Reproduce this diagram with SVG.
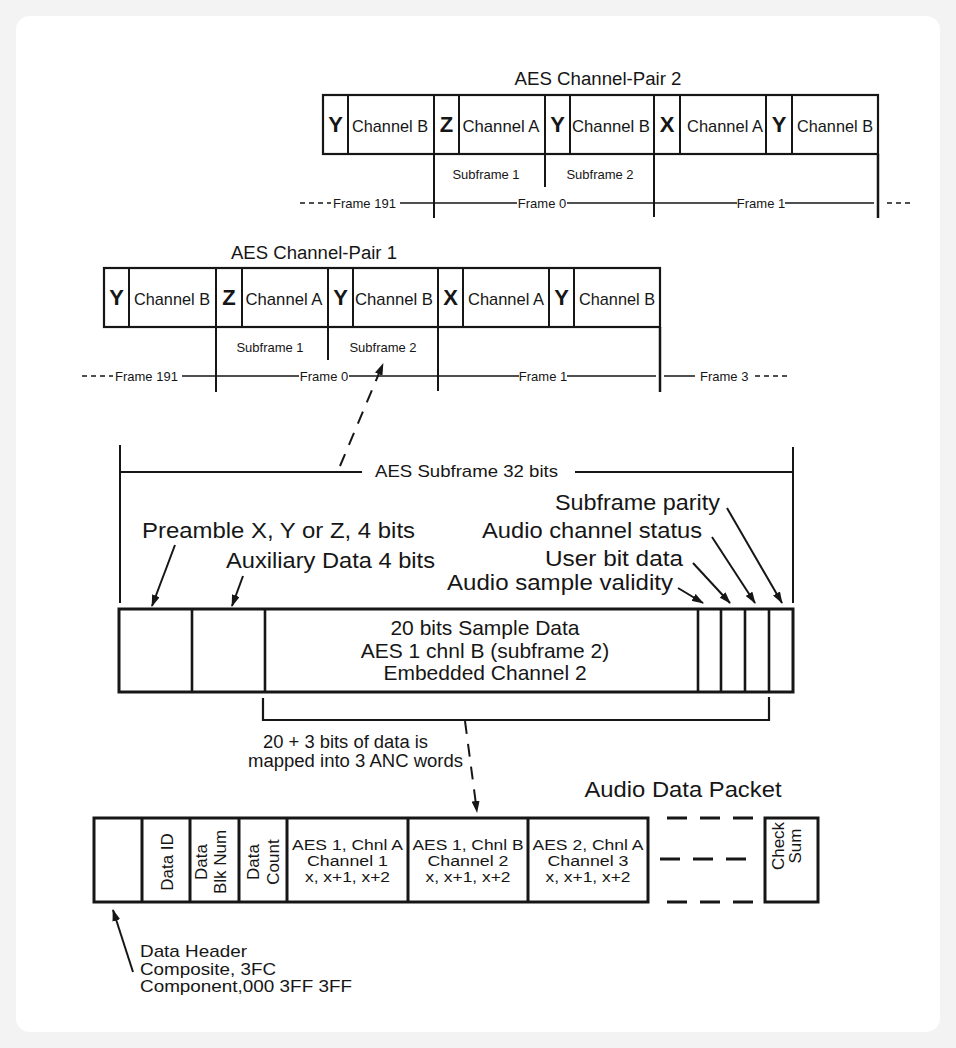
<svg xmlns="http://www.w3.org/2000/svg" width="956" height="1048" viewBox="0 0 956 1048">
<style>
text{font-family:"Liberation Sans",Arial,Helvetica,sans-serif;fill:#161616}
.ln{stroke:#161616;stroke-width:1.6;fill:none}
.cell{stroke:#161616;stroke-width:2;fill:none}
.bx{stroke:#161616;stroke-width:2.2;fill:none}
.thk{stroke:#161616;stroke-width:3;fill:none}
.big{font-size:22px;font-weight:bold}
.ch{font-size:17px}
.sm{font-size:13px}
.dsh{stroke:#161616;stroke-width:1.4;stroke-dasharray:5 4;fill:none}
.lbl{font-size:22px}
.pk{font-size:17px}
.pt{font-size:14px}
.arr{stroke:#161616;stroke-width:2;fill:none;marker-end:url(#ah)}
.darr{stroke:#161616;stroke-width:2;fill:none;stroke-dasharray:13 10;marker-end:url(#ah)}
.pdash{stroke:#161616;stroke-width:3;fill:none;stroke-dasharray:20 13}
</style>
<defs>
<marker id="ah" viewBox="0 0 12 8" refX="11" refY="4" markerWidth="12" markerHeight="8" markerUnits="userSpaceOnUse" orient="auto"><path d="M0,0L12,4L0,8z" fill="#161616"/></marker>
</defs>
<rect width="956" height="1048" fill="#f3f3f3"/>
<rect x="16" y="16" width="924" height="1016" rx="14" fill="#ffffff"/>

<g id="pair2">
<text x="598" y="85" font-size="18" text-anchor="middle" textLength="167" lengthAdjust="spacingAndGlyphs">AES Channel-Pair 2</text>
<rect class="bx" x="323" y="95" width="555" height="59"/>
<path class="cell" d="M348,95V154M434,95V154M459,95V154M545,95V154M570,95V154M654,95V154M680,95V154M766,95V154M792,95V154"/>
<text class="big" x="335.5" y="132" text-anchor="middle">Y</text>
<text class="big" x="446.5" y="132" text-anchor="middle">Z</text>
<text class="big" x="557.5" y="132" text-anchor="middle">Y</text>
<text class="big" x="667" y="132" text-anchor="middle">X</text>
<text class="big" x="779" y="132" text-anchor="middle">Y</text>
<text class="ch" x="390" y="132" text-anchor="middle" textLength="76" lengthAdjust="spacingAndGlyphs">Channel B</text>
<text class="ch" x="501" y="132" text-anchor="middle" textLength="77" lengthAdjust="spacingAndGlyphs">Channel A</text>
<text class="ch" x="611" y="132" text-anchor="middle" textLength="78" lengthAdjust="spacingAndGlyphs">Channel B</text>
<text class="ch" x="725" y="132" text-anchor="middle" textLength="76" lengthAdjust="spacingAndGlyphs">Channel A</text>
<text class="ch" x="835" y="132" text-anchor="middle" textLength="76" lengthAdjust="spacingAndGlyphs">Channel B</text>
<path class="cell" d="M434,154V218M545,154V187M654,154V217"/>
<path class="thk" style="stroke-width:2.5" d="M878,154V218"/>
<text class="sm" x="486" y="179" text-anchor="middle">Subframe 1</text>
<text class="sm" x="600" y="179" text-anchor="middle">Subframe 2</text>
<path class="dsh" d="M300,203H331M887,203H914"/>
<path class="ln" d="M400,203H517M567,203H737M785,203H874"/>
<text class="sm" x="333" y="208">Frame 191</text>
<text class="sm" x="542" y="208" text-anchor="middle">Frame 0</text>
<text class="sm" x="761" y="208" text-anchor="middle">Frame 1</text>
</g>

<g id="pair1">
<text x="314" y="259" font-size="18" text-anchor="middle" textLength="166" lengthAdjust="spacingAndGlyphs">AES Channel-Pair 1</text>
<rect class="bx" x="104" y="268" width="556" height="59"/>
<path class="cell" d="M129,268V327M216,268V327M242,268V327M328,268V327M353,268V327M438,268V327M463,268V327M549,268V327M574,268V327"/>
<text class="big" x="116.5" y="305" text-anchor="middle">Y</text>
<text class="big" x="229" y="305" text-anchor="middle">Z</text>
<text class="big" x="340.5" y="305" text-anchor="middle">Y</text>
<text class="big" x="450.5" y="305" text-anchor="middle">X</text>
<text class="big" x="561.5" y="305" text-anchor="middle">Y</text>
<text class="ch" x="172" y="305" text-anchor="middle" textLength="76" lengthAdjust="spacingAndGlyphs">Channel B</text>
<text class="ch" x="284" y="305" text-anchor="middle" textLength="77" lengthAdjust="spacingAndGlyphs">Channel A</text>
<text class="ch" x="394" y="305" text-anchor="middle" textLength="78" lengthAdjust="spacingAndGlyphs">Channel B</text>
<text class="ch" x="506" y="305" text-anchor="middle" textLength="76" lengthAdjust="spacingAndGlyphs">Channel A</text>
<text class="ch" x="617" y="305" text-anchor="middle" textLength="76" lengthAdjust="spacingAndGlyphs">Channel B</text>
<path class="cell" d="M216,327V392M328,327V360M438,327V391"/>
<path class="thk" style="stroke-width:2.5" d="M660,327V392"/>
<text class="sm" x="270" y="352" text-anchor="middle">Subframe 1</text>
<text class="sm" x="383" y="352" text-anchor="middle">Subframe 2</text>
<path class="dsh" d="M82,376H113M755,376H790"/>
<path class="ln" d="M182,376H299M349,376H519M567,376H656M664,376H695"/>
<text class="sm" x="115" y="381">Frame 191</text>
<text class="sm" x="324" y="381" text-anchor="middle">Frame 0</text>
<text class="sm" x="543" y="381" text-anchor="middle">Frame 1</text>
<text class="sm" x="700" y="381">Frame 3</text>
</g>

<g id="aes-subframe">
<path class="ln" style="stroke-width:2" d="M120,445V603M793,447V603M120,472H362M575,472H793"/>
<text x="375" y="477" font-size="17" textLength="183" lengthAdjust="spacingAndGlyphs">AES Subframe 32 bits</text>
<rect class="thk" x="119" y="609" width="674" height="83"/>
<path class="thk" style="stroke-width:2.6" d="M192,609V692M265,609V692M698,609V692M721,609V692M745,609V692M769,609V692"/>
<text x="485" y="635" font-size="21" text-anchor="middle">20 bits Sample Data</text>
<text x="485" y="658" font-size="21" text-anchor="middle">AES 1 chnl B (subframe 2)</text>
<text x="485" y="680" font-size="21" text-anchor="middle">Embedded Channel 2</text>
<path class="ln" style="stroke-width:2.2" d="M263,698V720H769V697"/>
</g>

<g id="labels">
<text class="lbl" x="142" y="538" textLength="273" lengthAdjust="spacingAndGlyphs">Preamble X, Y or Z, 4 bits</text>
<text class="lbl" x="226" y="568" textLength="209" lengthAdjust="spacingAndGlyphs">Auxiliary Data 4 bits</text>
<text class="lbl" x="720" y="510" text-anchor="end" textLength="165" lengthAdjust="spacingAndGlyphs">Subframe parity</text>
<text class="lbl" x="702" y="538" text-anchor="end" textLength="220" lengthAdjust="spacingAndGlyphs">Audio channel status</text>
<text class="lbl" x="683" y="566" text-anchor="end" textLength="138" lengthAdjust="spacingAndGlyphs">User bit data</text>
<text class="lbl" x="673" y="590" text-anchor="end" textLength="226" lengthAdjust="spacingAndGlyphs">Audio sample validity</text>
<text x="263" y="748" font-size="18" textLength="165" lengthAdjust="spacingAndGlyphs">20 + 3 bits of data is</text>
<text x="248" y="767" font-size="18" textLength="215" lengthAdjust="spacingAndGlyphs">mapped into 3 ANC words</text>
</g>

<g id="packet">
<text x="683" y="797" font-size="22" text-anchor="middle" textLength="197" lengthAdjust="spacingAndGlyphs">Audio Data Packet</text>
<rect class="thk" x="94" y="818" width="554" height="84"/>
<path class="thk" d="M142,818V902M190,818V902M239,818V902M287,818V902M408,818V902M528,818V902"/>
<path class="pdash" d="M667,818H765M667,902H765M660,859H748"/>
<rect class="thk" x="765" y="818" width="53" height="84"/>
<text class="pk" transform="translate(167,862) rotate(-90)" text-anchor="middle" dominant-baseline="central">Data ID</text>
<text class="pk" transform="translate(201,862) rotate(-90)" text-anchor="middle" dominant-baseline="central">Data</text>
<text class="pk" transform="translate(220,862) rotate(-90)" text-anchor="middle" dominant-baseline="central">Blk Num</text>
<text class="pk" transform="translate(253,862) rotate(-90)" text-anchor="middle" dominant-baseline="central">Data</text>
<text class="pk" transform="translate(273,862) rotate(-90)" text-anchor="middle" dominant-baseline="central">Count</text>
<text class="pk" transform="translate(778,846) rotate(-90)" text-anchor="middle" dominant-baseline="central" font-size="16">Check</text>
<text class="pk" transform="translate(795,846) rotate(-90)" text-anchor="middle" dominant-baseline="central" font-size="16">Sum</text>
<text class="pt" x="347.5" y="850" text-anchor="middle" textLength="111" lengthAdjust="spacingAndGlyphs">AES 1, Chnl A</text>
<text class="pt" x="347.5" y="866" text-anchor="middle" textLength="81" lengthAdjust="spacingAndGlyphs">Channel 1</text>
<text class="pt" x="347.5" y="882" text-anchor="middle" textLength="85" lengthAdjust="spacingAndGlyphs">x, x+1, x+2</text>
<text class="pt" x="468" y="850" text-anchor="middle" textLength="111" lengthAdjust="spacingAndGlyphs">AES 1, Chnl B</text>
<text class="pt" x="468" y="866" text-anchor="middle" textLength="81" lengthAdjust="spacingAndGlyphs">Channel 2</text>
<text class="pt" x="468" y="882" text-anchor="middle" textLength="85" lengthAdjust="spacingAndGlyphs">x, x+1, x+2</text>
<text class="pt" x="588" y="850" text-anchor="middle" textLength="111" lengthAdjust="spacingAndGlyphs">AES 2, Chnl A</text>
<text class="pt" x="588" y="866" text-anchor="middle" textLength="81" lengthAdjust="spacingAndGlyphs">Channel 3</text>
<text class="pt" x="588" y="882" text-anchor="middle" textLength="85" lengthAdjust="spacingAndGlyphs">x, x+1, x+2</text>
</g>

<g id="data-header">
<text x="140" y="957" font-size="17" textLength="107" lengthAdjust="spacingAndGlyphs">Data Header</text>
<text x="140" y="975" font-size="17" textLength="136" lengthAdjust="spacingAndGlyphs">Composite, 3FC</text>
<text x="140" y="992" font-size="17" textLength="212" lengthAdjust="spacingAndGlyphs">Component,000 3FF 3FF</text>
</g>

<g id="connectors">
<path class="darr" d="M340,466L383,364"/>
<path class="arr" d="M175,545L152,606"/>
<path class="arr" d="M243,576L232,606"/>
<path class="arr" d="M727,508L782,603"/>
<path class="arr" d="M712,537L755,603"/>
<path class="arr" d="M693,563L730,603"/>
<path class="arr" d="M678,588L703,603"/>
<path class="darr" d="M465,721L477,812"/>
<path class="arr" d="M133,972L113,910"/>
</g>
</svg>
